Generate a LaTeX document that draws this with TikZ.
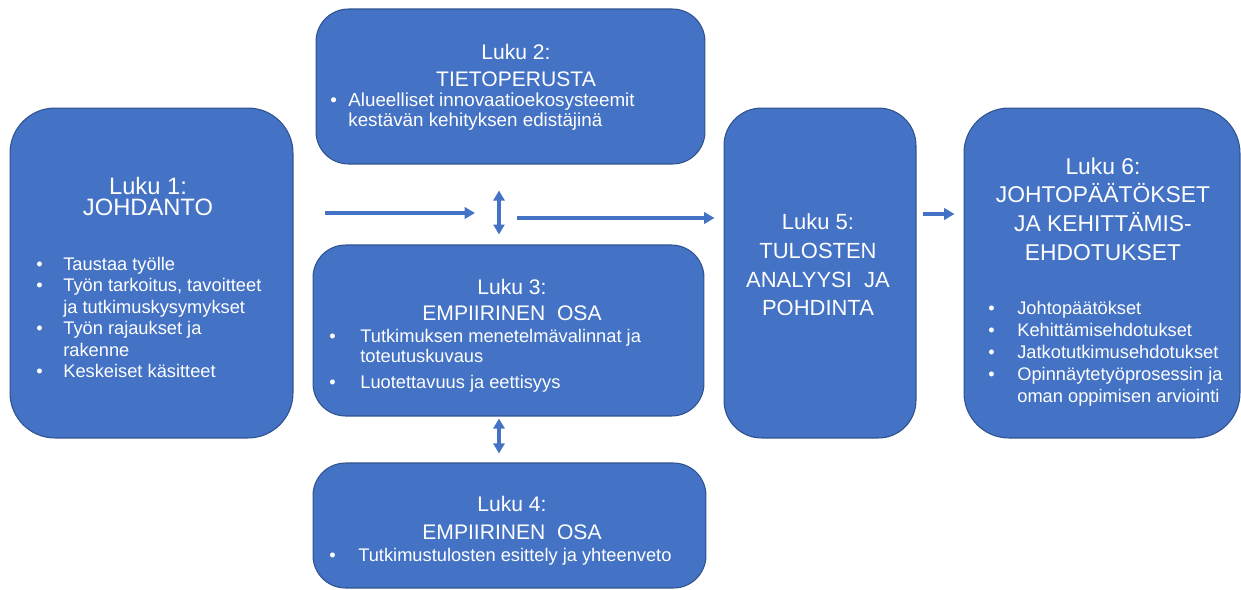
\documentclass[tikz,border=0pt]{standalone}
\usepackage{fontspec}
\setmainfont{Liberation Sans}
\usetikzlibrary{arrows.meta}
\definecolor{sininen}{HTML}{4472C4}
\definecolor{reuna}{HTML}{2F528F}
\newlength{\kohtav}
\newcommand{\kohta}[1]{\makebox[\kohtav][l]{\textbullet}#1}
\newcommand{\jatko}[1]{\hspace*{\kohtav}#1}
\tikzset{
  laatikko/.style={draw=reuna, line width=0.6pt, fill=sininen, rounded corners=#1, inner sep=0pt},
  otsikko/.style={text=white, align=center, inner sep=0pt, font=\fontsize{12}{#1}\selectfont},
  isootsikko/.style={text=white, align=center, inner sep=0pt, font=\fontsize{13}{#1}\selectfont},
  lista/.style={text=white, align=left, anchor=west, inner sep=0pt,
    execute at begin node={\setlength{\kohtav}{#1}}},
  pil/.style={draw=sininen, line width=1.8pt, -{Triangle[length=0.21cm, width=0.23cm]}},
  kaksi/.style={draw=sininen, line width=1.9pt,
    {Triangle[length=0.2cm, width=0.22cm]}-{Triangle[length=0.2cm, width=0.22cm]}}
}
\begin{document}
\begin{tikzpicture}[x=0.02cm, y=-0.02cm]
  \useasboundingbox (0,0) rectangle (1241,589);
  % laatikot
  \node[laatikko=0.9cm, minimum width=5.66cm, minimum height=6.6cm] (k1) at (151.5,273) {};
  \node[laatikko=0.65cm, minimum width=7.78cm, minimum height=3.1cm] (k2) at (510.5,86.5) {};
  \node[laatikko=0.65cm, minimum width=7.82cm, minimum height=3.42cm] (k3) at (508.5,330.5) {};
  \node[laatikko=0.65cm, minimum width=7.86cm, minimum height=2.5cm] (k4) at (509.5,525.5) {};
  \node[laatikko=0.75cm, minimum width=3.84cm, minimum height=6.6cm] (k5) at (820,273) {};
  \node[laatikko=0.9cm, minimum width=5.52cm, minimum height=6.6cm] (k6) at (1102,273) {};
  % otsikot
  \node[otsikko=12pt, font=\fontsize{13.5}{12}\selectfont] (k1o) at (148,196.5) {Luku 1:\\JOHDANTO};
  \node[otsikko=15.4pt] (k2o) at (516,65.5) {Luku 2:\\TIETOPERUSTA};
  \node[otsikko=15pt] (k3o) at (512,300) {Luku 3:\\EMPIIRINEN\ \ OSA};
  \node[otsikko=15.6pt] (k4o) at (512,518) {Luku 4:\\EMPIIRINEN\ \ OSA};
  \node[isootsikko=16.3pt, font=\fontsize{12.5}{16.3}\selectfont] (k5o) at (818,265) {Luku 5:\\TULOSTEN\\ANALYYSI\ \ JA\\POHDINTA};
  \node[isootsikko=16.3pt] (k6o) at (1103,209) {Luku 6:\\JOHTOPÄÄTÖKSET\\JA KEHITTÄMIS-\\EHDOTUKSET};
  % luettelot
  \node[lista=0.54cm, font=\fontsize{10.4}{12.2}\selectfont] (k1l) at (36,317.5)
    {\kohta{Taustaa työlle}\\
     \kohta{Työn tarkoitus, tavoitteet}\\
     \jatko{ja tutkimuskysymykset}\\
     \kohta{Työn rajaukset ja}\\
     \jatko{rakenne}\\
     \kohta{Keskeiset käsitteet}};
  \node[lista=0.36cm, font=\fontsize{10.7}{11.4}\selectfont] (k2l) at (330,112)
    {\kohta{Alueelliset innovaatioekosysteemit}\\
     \jatko{kestävän kehityksen edistäjinä}};
  \node[lista=0.62cm, font=\fontsize{10.4}{11.4}\selectfont] (k3l) at (329,361)
    {\kohta{Tutkimuksen menetelmävalinnat ja}\\
     \jatko{toteutuskuvaus}\\[3.4pt]
     \kohta{Luotettavuus ja eettisyys}};
  \node[lista=0.58cm, font=\fontsize{10.4}{11.4}\selectfont] (k4l) at (329,557)
    {\kohta{Tutkimustulosten esittely ja yhteenveto}};
  \node[lista=0.58cm, font=\fontsize{10.4}{12.5}\selectfont] (k6l) at (988,354)
    {\kohta{Johtopäätökset}\\
     \kohta{Kehittämisehdotukset}\\
     \kohta{Jatkotutkimusehdotukset}\\
     \kohta{Opinnäytetyöprosessin ja}\\
     \jatko{oman oppimisen arviointi}};
  % nuolet
  \coordinate (xm) at (499,0);
  \coordinate (y1) at (0,213);
  \coordinate (y2) at (0,218);
  \coordinate (y3) at (0,214);
  \draw[pil, shorten <=0.64cm, shorten >=0.48cm] (k1.east |- y1) -- (xm |- y1);
  \draw[pil, shorten <=0.36cm, shorten >=0.18cm] (xm |- y2) -- (k5.west |- y2);
  \draw[pil, shorten <=0.12cm, shorten >=0.18cm] (k5.east |- y3) -- (k6.west |- y3);
  \draw[kaksi, shorten <=0.52cm, shorten >=0.2cm] (k2.south -| xm) -- (k3.north -| xm);
  \draw[kaksi, shorten <=0.04cm, shorten >=0.18cm] (k3.south -| xm) -- (k4.north -| xm);
\end{tikzpicture}
\end{document}
